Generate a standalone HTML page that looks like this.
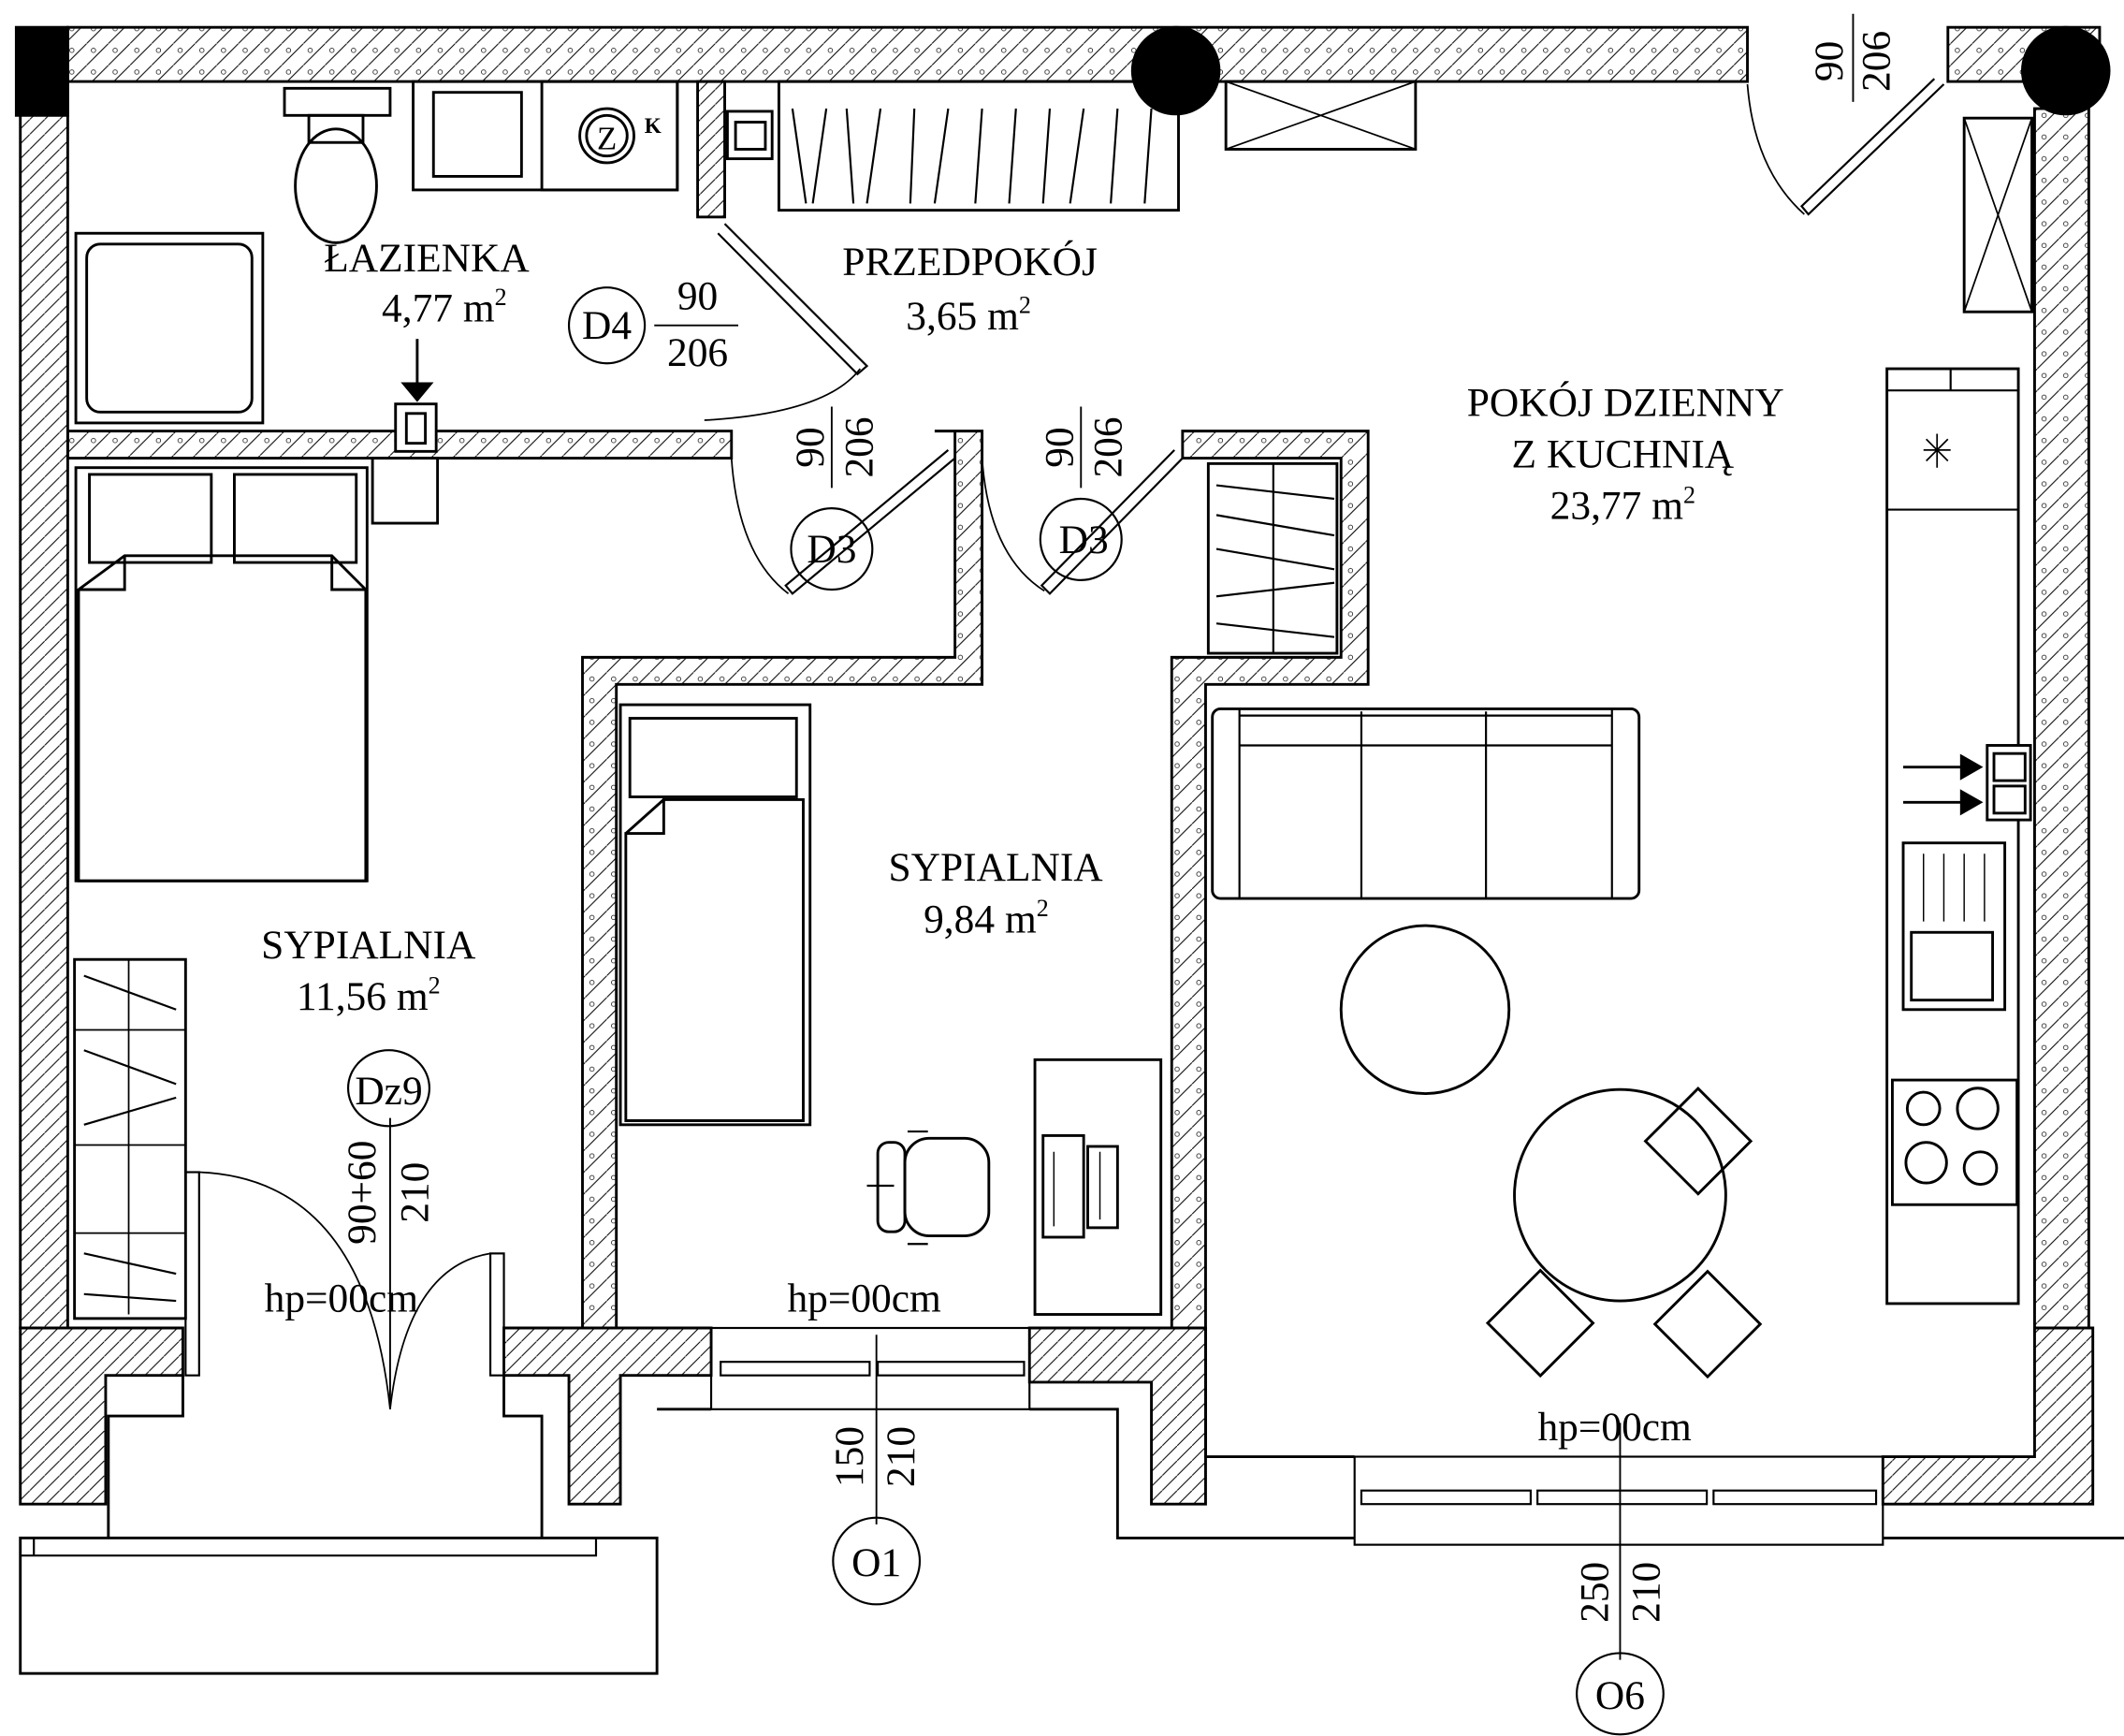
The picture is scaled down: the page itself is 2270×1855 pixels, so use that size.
<!DOCTYPE html>
<html><head><meta charset="utf-8"><style>html,body{margin:0;padding:0;background:#fff}svg{display:block}</style></head>
<body>
<svg width="2270" height="1855" viewBox="0 0 1568 1281" xmlns="http://www.w3.org/2000/svg" font-family="Liberation Serif, serif">
<defs>
<pattern id="h" width="11" height="11" patternUnits="userSpaceOnUse"><path d="M0,11 L11,0" stroke="#000" stroke-width="0.7"/></pattern>
<pattern id="h2" width="16" height="16" patternUnits="userSpaceOnUse"><path d="M0,16 L16,0" stroke="#000" stroke-width="0.7"/><circle cx="5" cy="5" r="1.6" fill="none" stroke="#000" stroke-width="0.5"/></pattern>
</defs>
<rect width="1568" height="1281" fill="#fff"/>
<g stroke="#000" stroke-width="2" fill="none">
<rect x="50" y="20" width="1240" height="40" fill="url(#h2)"/>
<rect x="1438" y="20" width="112" height="40" fill="url(#h2)"/>
<rect x="12" y="20" width="38" height="65" fill="#000"/>
<rect x="15" y="60" width="35" height="920" fill="url(#h)"/>
<rect x="1502" y="80" width="40" height="900" fill="url(#h2)"/>
<circle cx="868" cy="52" r="32" fill="#000"/>
<circle cx="1525" cy="52" r="32" fill="#000"/>
<rect x="50" y="318" width="490" height="20" fill="url(#h2)"/>
<rect x="515" y="60" width="20" height="100" fill="url(#h)"/>
<rect x="292" y="298" width="30" height="35" fill="#fff"/>
<rect x="300" y="305" width="14" height="22"/>
<rect x="275" y="338" width="48" height="48"/>
<path d="M308,250 V285" /><path d="M298,283 L318,283 L308,295Z" fill="#000"/>
<path d="M690,318 H725 V505 H455 V980 H430 V485 H705 V318Z" fill="url(#h2)"/>
<path d="M873,318 H1010 V505 H890 V980 H865 V485 H990 V338 H873Z" fill="url(#h2)"/>
<path d="M15,980 H135 V1015 H78 V1110 H15Z" fill="url(#h)"/>
<path d="M372,980 H525 V1015 H458 V1110 H420 V1015 H372Z" fill="url(#h)"/>
<path d="M760,980 H890 V1075 H890 V1110 H850 V1020 H760Z" fill="url(#h)"/>
<path d="M1390,1075 H1502 V980 H1545 V1110 H1390Z" fill="url(#h)"/>
<path d="M890,980 V1075 H1000"/>
<path d="M135,1015 V1045 H80 V1135"/>
<path d="M372,1015 V1045 H400 V1135"/>
<path d="M485,1040 H525 M760,1040 H825 V1135 H1000"/>
<path d="M1390,1135 H1568"/>
<rect x="15" y="1135" width="470" height="100"/>
<path d="M15,1148 H440 V1135 M25,1135 V1148" stroke-width="1.5"/>
<rect x="525" y="980" width="235" height="60" stroke-width="1.5"/>
<rect x="532" y="1005" width="110" height="10" stroke-width="1.5"/>
<rect x="648" y="1005" width="108" height="10" stroke-width="1.5"/>
<rect x="1000" y="1075" width="390" height="65" stroke-width="1.5"/>
<rect x="1005" y="1100" width="125" height="10" stroke-width="1.5"/>
<rect x="1135" y="1100" width="125" height="10" stroke-width="1.5"/>
<rect x="1265" y="1100" width="120" height="10" stroke-width="1.5"/>
<rect x="137" y="865" width="10" height="150" stroke-width="1.5"/>
<rect x="362" y="925" width="10" height="90" stroke-width="1.5"/>
<path d="M147,865 Q270,870 288,1040 M362,925 Q300,935 288,1040" stroke-width="1.2"/>
<path d="M535,165 L640,270 L633,276 L530,172" stroke-width="1.5"/>
<path d="M520,310 Q610,305 635,272" stroke-width="1.2"/>
<path d="M705,338 L585,438 L580,432 L700,332" stroke-width="1.5"/><path d="M540,338 Q545,410 582,438" stroke-width="1.2"/>
<path d="M873,338 L775,438 L769,432 L867,332" stroke-width="1.5"/><path d="M725,338 Q730,410 771,436" stroke-width="1.2"/>
<path d="M1435,62 L1335,158 L1330,152 L1428,58" stroke-width="1.5"/><path d="M1290,62 Q1295,125 1332,158" stroke-width="1.2"/>
<rect x="210" y="65" width="78" height="20"/>
<ellipse cx="248" cy="137" rx="30" ry="42"/>
<rect x="228" y="85" width="40" height="20"/>
<rect x="305" y="60" width="195" height="80"/>
<rect x="320" y="68" width="65" height="62"/><rect x="400" y="60" width="100" height="80"/>
<circle cx="448" cy="100" r="20"/><circle cx="448" cy="100" r="15"/>
<rect x="56" y="172" width="138" height="140"/><rect x="64" y="180" width="122" height="124" rx="10"/>
<rect x="537" y="82" width="33" height="35"/><rect x="543" y="90" width="22" height="20"/>
<rect x="575" y="60" width="295" height="95"/>
<path d="M585,80 L595,150 M610,80 L600,150 M625,80 L630,150 M650,80 L640,150 M675,80 L672,150 M700,80 L690,150 M725,80 L720,150 M750,80 L745,150 M775,80 L770,150 M800,80 L790,150 M825,80 L820,150 M850,80 L845,150" stroke-width="1.5"/>
<rect x="905" y="60" width="140" height="50"/><path d="M905,60 L1045,110 M905,110 L1045,60" stroke-width="1.2"/>
<rect x="1450" y="87" width="50" height="143"/><path d="M1450,87 L1500,230 M1450,230 L1500,87" stroke-width="1.2"/>
<rect x="56" y="345" width="215" height="305"/>
<rect x="66" y="350" width="90" height="65"/><rect x="173" y="350" width="90" height="65"/>
<path d="M92,410 H245 L270,435 V650 H58 V435Z"/>
<path d="M58,435 H92 V410 M245,410 V435 H270"/>
<rect x="55" y="708" width="82" height="265"/>
<path d="M55,760 H137 M55,845 H137 M55,910 H137 M95,708 V970" stroke-width="1.2"/>
<path d="M62,720 L130,745 M62,775 L130,800 M62,830 L130,810 M62,925 L130,940 M62,955 L130,960" stroke-width="1.5"/>
<rect x="458" y="520" width="140" height="310"/><rect x="465" y="530" width="123" height="58"/>
<path d="M490,590 H593 V827 H462 V615 H490 Z M462,615 L490,590" />
<rect x="764" y="782" width="93" height="188"/>
<rect x="770" y="838" width="30" height="75"/><rect x="803" y="846" width="22" height="60"/>
<path d="M778,850 V905 M812,850 V900" stroke-width="1"/>
<rect x="668" y="840" width="62" height="72" rx="18"/><rect x="648" y="843" width="20" height="66" rx="8"/>
<path d="M640,875 H660 M670,835 H685 M670,918 H685" stroke-width="1.5"/>
<rect x="895" y="523" width="315" height="140" rx="6"/>
<path d="M915,523 V550 H1190 V523 M1005,525 V663 M1097,525 V663 M915,550 V663 M1190,550 V663 M915,528 H1190" stroke-width="1.5"/>
<circle cx="1052" cy="745" r="62"/>
<circle cx="1196" cy="882" r="78"/>
<g transform="rotate(45 1255 840)"><rect x="1228" y="815" width="55" height="55"/></g>
<g transform="rotate(-45 1135 975)"><rect x="1108" y="950" width="55" height="55"/></g>
<g transform="rotate(45 1262 975)"><rect x="1235" y="950" width="55" height="55"/></g>
<rect x="892" y="342" width="95" height="140"/>
<path d="M940,342 V482 M898,358 L985,368 M898,380 L985,395 M898,405 L985,420 M898,440 L985,430 M898,460 L985,470" stroke-width="1.5"/>
<rect x="1393" y="272" width="97" height="690"/>
<path d="M1393,288 H1490 M1440,272 V288 M1393,376 H1490" stroke-width="1.5"/>
<path d="M1420,332 H1440 M1430,320 V345 M1422,324 L1438,340 M1438,324 L1422,340" stroke-width="1.2"/>
<rect x="1405" y="622" width="75" height="123"/><rect x="1411" y="688" width="60" height="50"/>
<path d="M1420,630 V680 M1435,630 V680 M1450,630 V680 M1465,630 V680" stroke-width="1"/>
<rect x="1397" y="797" width="92" height="92"/>
<circle cx="1420" cy="818" r="12"/><circle cx="1460" cy="818" r="15"/><circle cx="1422" cy="858" r="15"/><circle cx="1462" cy="862" r="12"/>
<rect x="1467" y="550" width="32" height="55" fill="#fff"/><rect x="1472" y="556" width="23" height="20"/><rect x="1472" y="580" width="23" height="20"/>
<path d="M1405,566 H1450 M1405,592 H1450"/><path d="M1448,558 L1462,566 L1448,574Z M1448,584 L1462,592 L1448,600Z" fill="#000"/>
<path d="M483,240 H545 M1368,10 V75 M614,300 V360 M798,300 V360 M288,825 V1040 M647,985 V1125 M1196,1050 V1225" stroke-width="1.3"/>
<circle cx="448" cy="240" r="28" stroke-width="1.5"/>
<circle cx="614" cy="405" r="30" stroke-width="1.5"/>
<circle cx="798" cy="398" r="30" stroke-width="1.5"/>
<ellipse cx="287" cy="803" rx="30" ry="28" stroke-width="1.5"/>
<ellipse cx="647" cy="1152" rx="32" ry="32" stroke-width="1.5"/>
<ellipse cx="1196" cy="1250" rx="32" ry="30" stroke-width="1.5"/>
</g>
<g font-size="30" fill="#000" text-anchor="middle">
<text x="315" y="200">ŁAZIENKA</text><text x="328" y="237">4,77 m<tspan font-size="18" dy="-12">2</tspan></text>
<text x="716" y="203">PRZEDPOKÓJ</text><text x="715" y="243">3,65 m<tspan font-size="18" dy="-12">2</tspan></text>
<text x="1200" y="307">POKÓJ DZIENNY</text><text x="1198" y="345">Z KUCHNIĄ</text><text x="1198" y="383">23,77 m<tspan font-size="18" dy="-12">2</tspan></text>
<text x="272" y="707">SYPIALNIA</text><text x="272" y="745">11,56 m<tspan font-size="18" dy="-12">2</tspan></text>
<text x="735" y="650">SYPIALNIA</text><text x="728" y="688">9,84 m<tspan font-size="18" dy="-12">2</tspan></text>
<text x="448" y="250">D4</text><text x="515" y="228">90</text><text x="515" y="270">206</text>
<text x="614" y="415">D3</text><text x="800" y="408">D3</text>
<text x="287" y="815">Dz9</text><text x="647" y="1163">O1</text><text x="1196" y="1261">O6</text>
<text x="252" y="968">hp=00cm</text><text x="638" y="968">hp=00cm</text><text x="1192" y="1063">hp=00cm</text>
<text x="448" y="110" font-size="24">Z</text><text x="482" y="98" font-size="16" font-weight="bold">K</text>
<text transform="translate(1360,45) rotate(-90)">90</text><text transform="translate(1395,45) rotate(-90)">206</text>
<text transform="translate(608,330) rotate(-90)">90</text><text transform="translate(644,330) rotate(-90)">206</text>
<text transform="translate(792,330) rotate(-90)">90</text><text transform="translate(828,330) rotate(-90)">206</text>
<text transform="translate(277,880) rotate(-90)">90+60</text><text transform="translate(316,880) rotate(-90)">210</text>
<text transform="translate(637,1075) rotate(-90)">150</text><text transform="translate(675,1075) rotate(-90)">210</text>
<text transform="translate(1187,1175) rotate(-90)">250</text><text transform="translate(1225,1175) rotate(-90)">210</text>
</g>
</svg>
</body></html>
